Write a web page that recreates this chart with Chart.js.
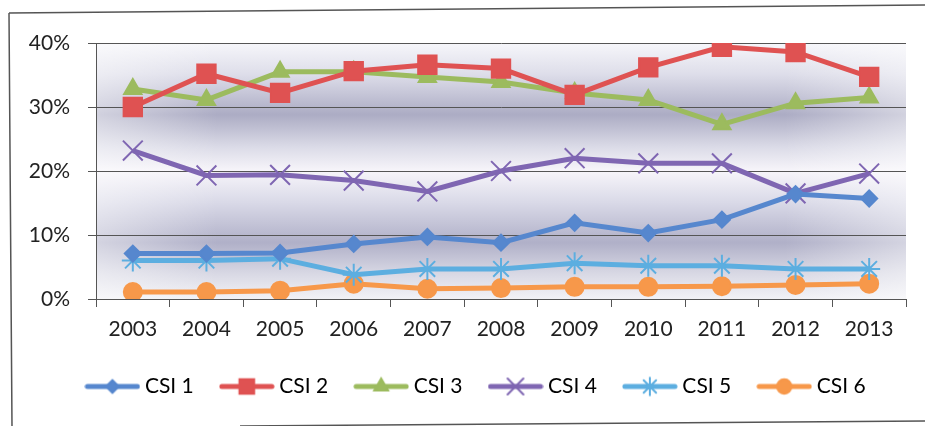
<!DOCTYPE html>
<html>
<head>
<meta charset="utf-8">
<script src="https://cdn.jsdelivr.net/npm/chart.js@4/dist/chart.umd.min.js"></script>
<style>
  html, body { margin: 0; padding: 0; background: #fff; }
  #wrap { width: 925px; height: 426px; }
</style>
</head>
<body>
<div id="wrap"><canvas id="csiChart" width="925" height="426"></canvas></div>
<script>
  'use strict';
  // values, in percent
  var years = ['2003', '2004', '2005', '2006', '2007', '2008', '2009', '2010', '2011', '2012', '2013'];
  var csi1 = [7.1, 7.1, 7.2, 8.6, 9.7, 8.8, 11.9, 10.3, 12.4, 16.4, 15.7];
  var csi2 = [30.0, 35.2, 32.2, 35.6, 36.6, 36.0, 31.9, 36.2, 39.4, 38.6, 34.7];
  var csi3 = [32.8, 31.1, 35.5, 35.5, 34.7, 33.9, 32.2, 31.1, 27.3, 30.6, 31.5];
  var csi4 = [23.2, 19.3, 19.4, 18.5, 16.8, 20.0, 22.0, 21.2, 21.2, 16.5, 19.6];
  var csi5 = [6.0, 6.0, 6.3, 3.8, 4.7, 4.7, 5.6, 5.2, 5.2, 4.7, 4.7];
  var csi6 = [1.1, 1.1, 1.3, 2.4, 1.6, 1.7, 1.9, 1.9, 2.0, 2.2, 2.4];
  var yTicks = [0, 10, 20, 30, 40];

  var series = [
    { label: 'CSI 1', data: csi1, color: '#5687CE', style: 'rectRot', radius: 8 },
    { label: 'CSI 2', data: csi2, color: '#DF5252', style: 'rect', radius: 13 },
    { label: 'CSI 3', data: csi3, color: '#9CBB5E', style: 'triangle', radius: 10 },
    { label: 'CSI 4', data: csi4, color: '#7F66B2', style: 'crossRot', radius: 14 },
    { label: 'CSI 5', data: csi5, color: '#5CAEE0', style: 'star', radius: 11 },
    { label: 'CSI 6', data: csi6, color: '#F7984A', style: 'circle', radius: 9 }
  ];

  var font = 'Lato';

  // small legend icon: line with the marker in the middle
  function legendIcon(s) {
    var c = document.createElement('canvas');
    c.width = 56; c.height = 22;
    var ctx = c.getContext('2d');
    ctx.strokeStyle = s.color;
    ctx.lineWidth = 5;
    ctx.lineCap = 'round';
    ctx.beginPath();
    ctx.moveTo(3, 11); ctx.lineTo(53, 11);
    ctx.stroke();
    ctx.fillStyle = s.color;
    ctx.lineWidth = 2;
    Chart.helpers.drawPoint(ctx, { pointStyle: s.style, radius: s.radius * 0.8, rotation: 0, borderWidth: 2 }, 28, 11);
    return c;
  }

  var plotBackground = {
    id: 'plotBackground',
    afterLayout: function(chart) {
      // the legend sits a little right of the canvas centre in the scan
      if (chart.legend) chart.legend.left += 40;
    },
    beforeDraw: function(chart) {
      var ctx = chart.ctx, a = chart.chartArea;
      ctx.save();
      var g = ctx.createLinearGradient(0, a.top, 0, a.bottom);
      g.addColorStop(0, '#f6f6fa');
      g.addColorStop(0.12, '#dedeea');
      g.addColorStop(0.28, '#acacc4');
      g.addColorStop(0.41, '#dcdce8');
      g.addColorStop(0.5, '#f7f5fa');
      g.addColorStop(0.62, '#dadae8');
      g.addColorStop(0.78, '#b0b0c8');
      g.addColorStop(0.9, '#d8d8e4');
      g.addColorStop(1, '#f2f2f6');
      ctx.fillStyle = g;
      ctx.fillRect(a.left, a.top, a.right - a.left, a.bottom - a.top);
      var h = ctx.createLinearGradient(a.left, 0, a.right, 0);
      h.addColorStop(0, 'rgba(255,255,255,0.45)');
      h.addColorStop(0.15, 'rgba(255,255,255,0)');
      h.addColorStop(0.85, 'rgba(255,255,255,0)');
      h.addColorStop(1, 'rgba(255,255,255,0.45)');
      ctx.fillStyle = h;
      ctx.fillRect(a.left, a.top, a.right - a.left, a.bottom - a.top);
      // scanned frame around the chart
      ctx.strokeStyle = '#555';
      ctx.lineWidth = 1.5;
      ctx.beginPath();
      ctx.moveTo(9, 13); ctx.lineTo(925, 5);
      ctx.moveTo(9, 13); ctx.lineTo(12, 426);
      ctx.moveTo(240, 426); ctx.lineTo(925, 421);
      ctx.stroke();
      ctx.restore();
    }
  };

  var datasets = series.map(function(s) {
    return {
      label: s.label,
      data: s.data,
      borderColor: s.color,
      backgroundColor: s.color,
      borderWidth: 5,
      pointStyle: s.style,
      pointRadius: s.radius,
      pointHoverRadius: s.radius,
      pointBorderWidth: 2,
      pointBackgroundColor: s.color,
      pointBorderColor: s.color,
      tension: 0
    };
  });

  var ctx = document.getElementById('csiChart').getContext('2d');
  var csiChart = new Chart(ctx, {
    type: 'line',
    data: { labels: years, datasets: datasets },
    plugins: [plotBackground],
    options: {
      responsive: false,
      animation: false,
      layout: { padding: { left: 10, right: 19, top: 43, bottom: 19 } },
      plugins: {
        tooltip: { enabled: false },
        legend: {
          position: 'bottom',
          labels: {
            usePointStyle: true,
            pointStyleWidth: 44,
            padding: 31,
            color: '#222',
            font: { family: font, size: 21 },
            generateLabels: function(chart) {
              return series.map(function(s, i) {
                return {
                  text: s.label,
                  pointStyle: legendIcon(s),
                  fillStyle: s.color,
                  strokeStyle: s.color,
                  lineWidth: 0,
                  datasetIndex: i,
                  hidden: false
                };
              });
            }
          }
        }
      },
      scales: {
        x: {
          offset: true,
          grid: { offset: true, drawOnChartArea: false, tickLength: 8, color: '#555' },
          border: { color: '#555' },
          ticks: { color: '#222', padding: 10, font: { family: font, size: 21 } },
          afterFit: function(scale) { scale.height = 46; }
        },
        y: {
          min: 0,
          max: 40,
          afterBuildTicks: function(scale) {
            scale.ticks = yTicks.map(function(v) { return { value: v }; });
          },
          grid: { color: '#555', tickLength: 8 },
          border: { color: '#555' },
          ticks: {
            color: '#222',
            padding: 18,
            font: { family: font, size: 21 },
            callback: function(v) { return v + '%'; }
          },
          afterFit: function(scale) { scale.width = 86; }
        }
      }
    }
  });
</script>
</body>
</html>
